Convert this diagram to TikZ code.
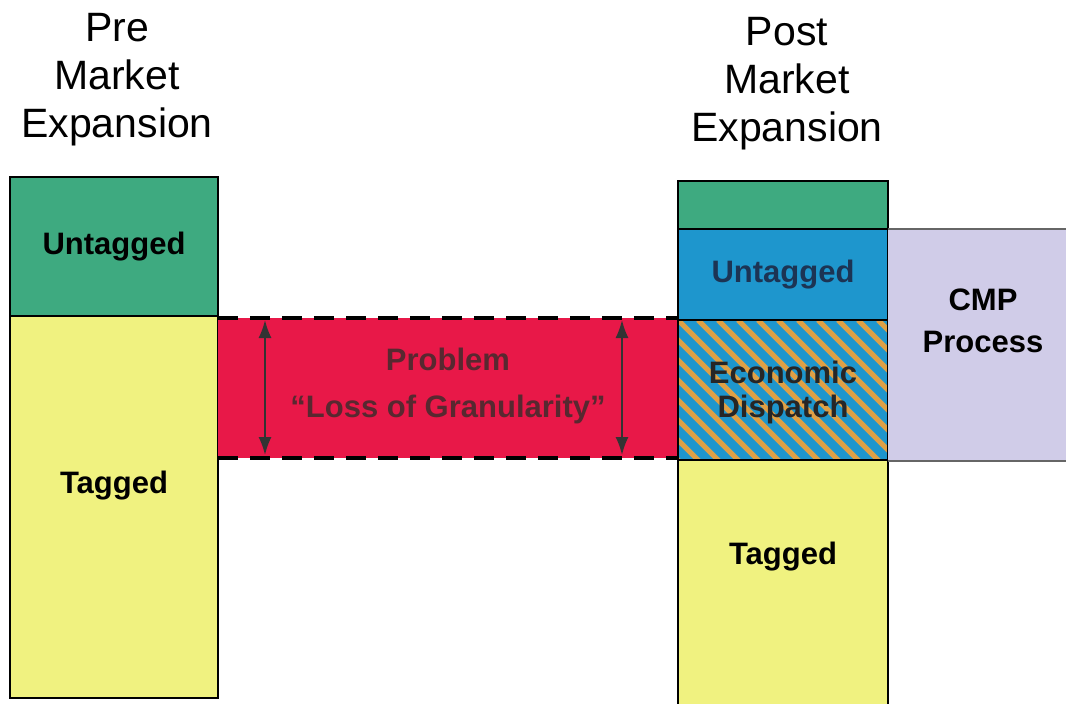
\documentclass[tikz,border=0pt]{standalone}
\usepackage{fontspec}
\setmainfont{Liberation Sans}
\usetikzlibrary{positioning,calc,arrows.meta}
\definecolor{mygreen}{RGB}{62,170,128}
\definecolor{myyellow}{RGB}{240,242,128}
\definecolor{myred}{RGB}{232,24,72}
\definecolor{myblue}{RGB}{30,150,205}
\definecolor{mylavender}{RGB}{208,204,232}
\definecolor{myorange}{RGB}{222,160,70}
\definecolor{mynavy}{RGB}{28,52,84}
\definecolor{mybrown}{RGB}{88,40,48}

\begin{document}
\begin{tikzpicture}[x=1pt, y=-1pt,
    block/.style={draw=black, line width=1.2pt, inner sep=0pt, outer sep=0pt,
        minimum width=208pt, font=\bfseries\fontsize{31}{36}\selectfont, align=center},
    heading/.style={align=center, font=\fontsize{41}{48}\selectfont},
    label/.style={font=\bfseries\fontsize{31}{36}\selectfont, align=center},
    dimarrow/.style={{Latex[length=18pt,width=13pt]}-{Latex[length=18pt,width=13pt]}, line width=1.8pt, draw=black!80}]
    \useasboundingbox (0,0) rectangle (1066,704);
    % Titles
    \node[heading] (preTitle) at (117, 80) {Pre\\Market\\Expansion};
    \node[heading] (postTitle) at (787, 84) {Post\\Market\\Expansion};
    % Pre market column
    \node[block, fill=mygreen, minimum height=139pt, anchor=north west] (preUntag) at (10, 177) {Untagged};
    \node[block, fill=myyellow, minimum height=382pt, below=0pt of preUntag] (preTag) {};
    \node[label] at ($(preTag.north)+(0,170)$) {Tagged};
    % Problem band
    \node[fill=myred, inner sep=0pt, outer sep=0pt, minimum width=460pt, minimum height=140pt,
        anchor=north west] (band) at (218, 318) {};
    \draw[line width=3.5pt, dash pattern=on 20pt off 12pt] (band.north west) -- (band.north east);
    \draw[line width=3.5pt, dash pattern=on 20pt off 12pt] (band.south west) -- (band.south east);
    \node[label, text=mybrown, font=\bfseries\fontsize{31}{47}\selectfont] at ($(band.center)+(0,-2)$) {Problem\\``Loss of Granularity''};
    \draw[dimarrow] ([xshift=47pt, yshift=-2pt]band.north west) -- ([xshift=47pt, yshift=3pt]band.south west);
    \draw[dimarrow] ([xshift=-56pt, yshift=-2pt]band.north east) -- ([xshift=-56pt, yshift=3pt]band.south east);
    % Post market column
    \node[block, fill=mygreen, minimum width=210pt, minimum height=48pt, anchor=north west] (postTop) at (678, 181) {};
    \node[block, fill=myblue, minimum width=210pt, minimum height=91pt, below=0pt of postTop, text=mynavy] (postUntag) {Untagged};
    \node[block, fill=myblue, minimum width=210pt, minimum height=140pt, below=0pt of postUntag,
        path picture={
            \foreach \i in {-180,-160,...,220}
                \draw[myorange, line width=5pt] ([xshift=\i pt]path picture bounding box.north west) -- ++(170,170);
        }] (dispatch) {};
    \node[label, text=black!85, font=\bfseries\fontsize{31}{34}\selectfont] at ($(dispatch.center)+(0,2)$) {Economic\\Dispatch};
    \node[block, fill=myyellow, minimum width=210pt, minimum height=250pt, below=0pt of dispatch] (postTag) {};
    \node[label] at ($(postTag.north)+(0,97)$) {Tagged};
    % CMP process
    \node[fill=mylavender, inner sep=0pt, outer sep=0pt, minimum width=190pt, minimum height=232pt,
        anchor=north west] (cmp) at (888, 229) {};
    \draw[black!60, line width=1.2pt] (cmp.north west) -- (cmp.north east);
    \draw[black!60, line width=1.2pt] (cmp.south west) -- (cmp.south east);
    \node[label, font=\bfseries\fontsize{31}{42}\selectfont] at (983, 321) {CMP\\Process};
\end{tikzpicture}
\end{document}
